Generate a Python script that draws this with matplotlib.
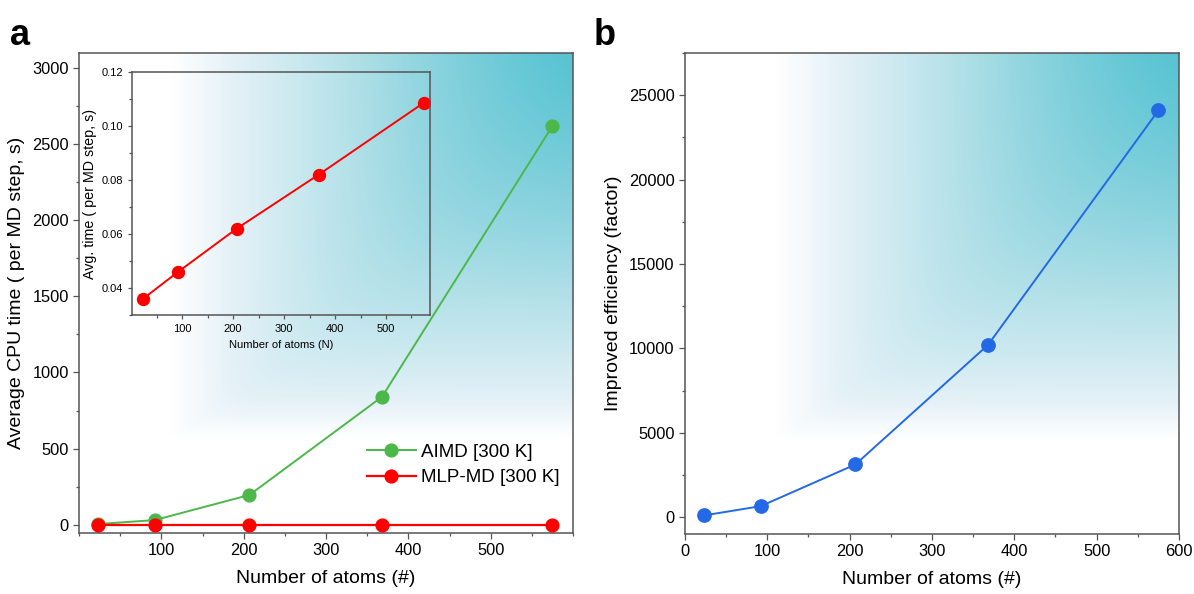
import numpy as np
import matplotlib
matplotlib.use("Agg")
import matplotlib.pyplot as plt
from matplotlib.ticker import MultipleLocator
from matplotlib.colors import LinearSegmentedColormap

plt.rcParams['font.family'] = ['Liberation Sans', 'DejaVu Sans']

# system sizes and timings
atoms = [23, 92, 207, 368, 575]
aimd_time = [3.6, 30, 195, 840, 2620]          # s per MD step
mlp_time = [0.036, 0.046, 0.062, 0.082, 0.1087]  # s per MD step
efficiency = [100, 650, 3120, 10200, 24095]     # AIMD / MLP-MD

wash = LinearSegmentedColormap.from_list(
    'wash', [(0.0, '#ffffff'), (0.12, '#e6f2f8'), (0.45, '#b2e0e8'), (1.0, '#4bbfcf')])


def teal_backdrop(ax):
    # soft teal wash, strongest in the upper right, fading left and down
    n = 400
    X, Y = np.meshgrid(np.linspace(0, 1, n), np.linspace(0, 1, n))
    h = np.clip((X - 0.18) / 0.82, 0, 1) ** 1.15
    v = np.clip((Y - 0.20) / 0.80, 0, 1) ** 0.9
    k = 4.0
    with np.errstate(divide='ignore'):
        a = (h ** -k + v ** -k) ** (-1.0 / k)
    a = np.nan_to_num(a, nan=0.0, posinf=0.0)
    a = np.clip(a / 0.9, 0, 1)
    ax.imshow(a, cmap=wash, vmin=0, vmax=1, extent=(0, 1, 0, 1),
              transform=ax.transAxes, origin='lower', aspect='auto',
              zorder=0, interpolation='bilinear')


def style_axes(ax, tick_size=11.8, major=4, minor=2.5):
    for s in ax.spines.values():
        s.set_color('#555555')
        s.set_linewidth(1.1)
    ax.tick_params(which='both', direction='out', color='#555555',
                   labelsize=tick_size, width=0.9)
    ax.tick_params(which='major', length=major)
    ax.tick_params(which='minor', length=minor)


fig = plt.figure(figsize=(11.94, 5.94), dpi=100)

# ---- panel a ----
ax1 = fig.add_axes([0.0662, 0.1027, 0.4137, 0.8081])
teal_backdrop(ax1)
ax1.plot(atoms, aimd_time, '-o', color='#4cb84a', lw=1.4, ms=9.2,
         label='AIMD [300 K]', zorder=3)
ax1.plot(atoms, [0 * t for t in mlp_time], '-o', color='#ff0000', lw=1.6,
         ms=9.2, label='MLP-MD [300 K]', zorder=4)
ax1.set_xlim(0, 600)
ax1.set_ylim(-55, 3100)
ax1.set_xticks([100, 200, 300, 400, 500])
ax1.xaxis.set_minor_locator(MultipleLocator(50))
ax1.yaxis.set_major_locator(MultipleLocator(500))
ax1.yaxis.set_minor_locator(MultipleLocator(250))
style_axes(ax1)
ax1.set_xlabel('Number of atoms (#)', fontsize=14, labelpad=8)
ax1.set_ylabel('Average CPU time ( per MD step, s)', fontsize=14, labelpad=5)
ax1.legend(loc='lower right', bbox_to_anchor=(1.0, 0.07), frameon=False,
           fontsize=13.5, handlelength=2.6, handletextpad=0.3,
           labelspacing=0.45, borderaxespad=0.3)
fig.text(0.008, 0.925, 'a', fontsize=26, fontweight='bold')

# inset: MLP-MD timing alone
ins = fig.add_axes([0.1108, 0.4697, 0.2496, 0.4091])
ins.set_facecolor('none')
ins.plot(atoms, mlp_time, '-o', color='#ff0000', lw=1.4, ms=8.6)
ins.set_xlim(2, 587)
ins.set_ylim(0.03, 0.12)
ins.set_xticks([100, 200, 300, 400, 500])
ins.xaxis.set_minor_locator(MultipleLocator(50))
ins.yaxis.set_minor_locator(MultipleLocator(0.01))
ins.set_yticks([0.04, 0.06, 0.08, 0.10, 0.12])
ins.set_yticklabels(['0.04', '0.06', '0.08', '0.10', '0.12'])
style_axes(ins, tick_size=8, major=3, minor=2)
ins.set_xlabel('Number of atoms (N)', fontsize=8, labelpad=4)
ins.set_ylabel('Avg. time ( per MD step, s)', fontsize=10.3, labelpad=3)

# ---- panel b ----
ax2 = fig.add_axes([0.5737, 0.1010, 0.4137, 0.8098])
teal_backdrop(ax2)
ax2.plot(atoms, efficiency, '-o', color='#2369e6', lw=1.4, ms=9.6, zorder=3)
ax2.set_xlim(0, 600)
ax2.set_ylim(-1000, 27500)
ax2.xaxis.set_major_locator(MultipleLocator(100))
ax2.xaxis.set_minor_locator(MultipleLocator(50))
ax2.yaxis.set_major_locator(MultipleLocator(5000))
ax2.yaxis.set_minor_locator(MultipleLocator(2500))
style_axes(ax2)
ax2.set_xlabel('Number of atoms (#)', fontsize=14, labelpad=8)
ax2.set_ylabel('Improved efficiency (factor)', fontsize=14, labelpad=5)
fig.text(0.497, 0.925, 'b', fontsize=26, fontweight='bold')

fig.savefig('out.png', dpi=100)
